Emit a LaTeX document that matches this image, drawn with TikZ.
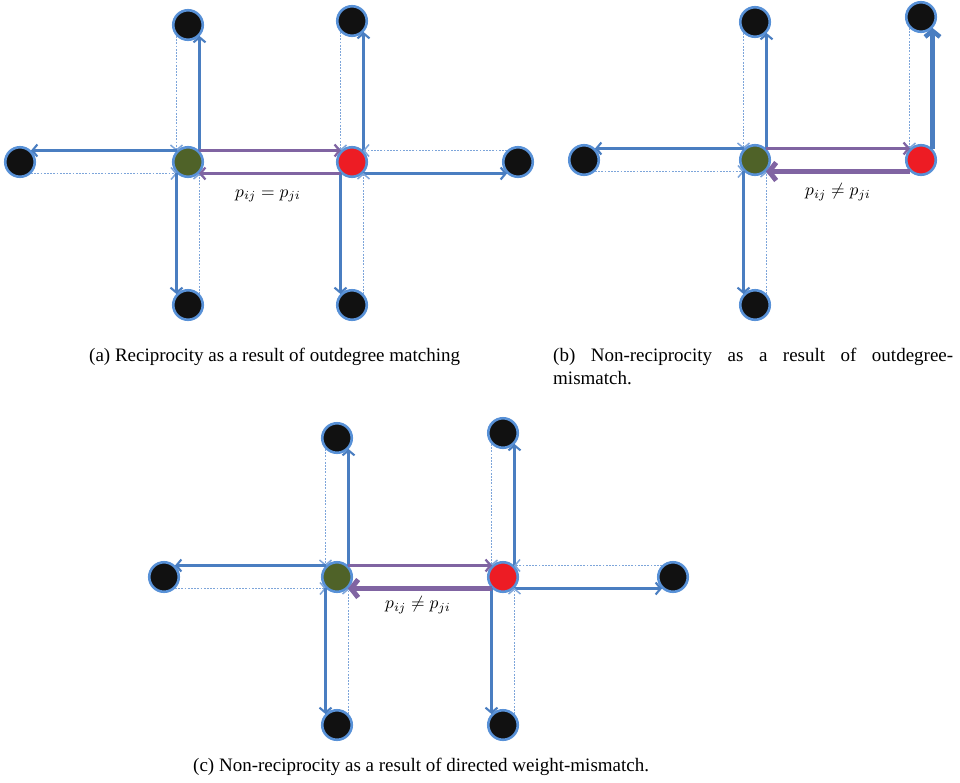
\documentclass[tikz,border=0pt]{standalone}
\usepackage{graphicx}
\usepackage{fontspec}
\newfontfamily\capfont{Liberation Serif}
\usetikzlibrary{arrows.meta,calc}
\definecolor{solblue}{RGB}{74,126,193}
\definecolor{dotblue}{RGB}{125,165,218}
\definecolor{purpc}{RGB}{128,100,162}
\definecolor{ndline}{RGB}{88,145,215}
\definecolor{greenf}{RGB}{79,98,40}
\definecolor{redf}{RGB}{237,28,36}
\definecolor{blackf}{RGB}{17,17,17}
\def\dd{11.5}
\def\ee{11}
\newcommand{\mklinkup}[3][sol]{%
  \draw[#1] ($(#2)+(\dd,-\ee)$) -- ($(#3)+(\dd,\ee)$);
  \draw[dotl] ($(#3)+(-\dd,\ee)$) -- ($(#2)+(-\dd,-\ee)$);}
\newcommand{\mklinkdown}[2]{%
  \draw[sol] ($(#1)+(-\dd,\ee)$) -- ($(#2)+(-\dd,-\ee)$);
  \draw[dotl] ($(#2)+(\dd,-\ee)$) -- ($(#1)+(\dd,\ee)$);}
\newcommand{\mklinkleft}[2]{%
  \draw[sol] ($(#1)+(-\ee,-\dd)$) -- ($(#2)+(\ee,-\dd)$);
  \draw[dotl] ($(#2)+(\ee,\dd)$) -- ($(#1)+(-\ee,\dd)$);}
\newcommand{\mklinkright}[2]{%
  \draw[sol] ($(#1)+(\ee,\dd)$) -- ($(#2)+(-\ee,\dd)$);
  \draw[dotl] ($(#2)+(-\ee,-\dd)$) -- ($(#1)+(\ee,-\dd)$);}
\newcommand{\mklinkmid}[3][purp]{%
  \draw[purp] ($(#2)+(\ee,-\dd)$) -- ($(#3)+(-\ee,-\dd)$);
  \draw[#1] ($(#3)+(-\ee,\dd)$) -- ($(#2)+(\ee,\dd)$);}
\newcommand{\mylab}[1]{\scalebox{1.75}{$#1$}}
\tikzset{
  nd/.style={circle, draw=ndline, line width=2.6pt, minimum size=29.5pt, inner sep=0pt},
  blk/.style={nd, fill=blackf},
  grn/.style={nd, fill=greenf},
  rd/.style={nd, fill=redf},
  sol/.style={draw=solblue, line width=2.1pt, -{Straight Barb[length=5pt,width=12pt]}},
  thsol/.style={draw=solblue, line width=4.5pt, -{Straight Barb[length=6pt,width=15pt]}},
  dotl/.style={draw=dotblue, line width=1.9pt, dash pattern=on 1.8pt off 1.4pt, -{Straight Barb[length=5pt,width=12pt,line width=1.5pt]}},
  purp/.style={draw=purpc, line width=2.2pt, -{Straight Barb[length=5pt,width=12pt]}},
  thpurp/.style={draw=purpc, line width=5pt, -{Straight Barb[length=7pt,width=18pt]}},
  captxt/.style={font=\capfont\fontsize{19}{22}\selectfont, inner sep=0pt},
  lab/.style={inner sep=0pt}
}
\begin{document}
\begin{tikzpicture}[x=1pt,y=-1pt]
\useasboundingbox (0,0) rectangle (960,782);
% ---------- panel (a)
\node[grn] (Ga) at (188,162) {};
\node[rd]  (Ra) at (352,162) {};
\node[blk] (GTa) at (188,25) {};
\node[blk] (RTa) at (352,21) {};
\node[blk] (GLa) at (20,162) {};
\node[blk] (RRa) at (518,162) {};
\node[blk] (GBa) at (188,305) {};
\node[blk] (RBa) at (352,305) {};
\mklinkup{Ga}{GTa}
\mklinkleft{Ga}{GLa}
\mklinkdown{Ga}{GBa}
\mklinkup{Ra}{RTa}
\mklinkright{Ra}{RRa}
\mklinkdown{Ra}{RBa}
\mklinkmid{Ga}{Ra}
\node[lab] (la) at (268,196) {\mylab{p_{ij}=p_{ji}}};
% ---------- panel (b)
\node[grn] (Gb) at (755,160) {};
\node[rd]  (Rb) at (921,160) {};
\node[blk] (GTb) at (755,22) {};
\node[blk] (RTb) at (921,17) {};
\node[blk] (GLb) at (584,160) {};
\node[blk] (GBb) at (755,305) {};
\mklinkup{Gb}{GTb}
\mklinkleft{Gb}{GLb}
\mklinkdown{Gb}{GBb}
\mklinkup[thsol]{Rb}{RTb}
\mklinkmid[thpurp]{Gb}{Rb}
\node[lab] (lb) at (838,192) {\mylab{p_{ij}\neq p_{ji}}};
% ---------- panel (c)
\node[grn] (Gc) at (337,577) {};
\node[rd]  (Rc) at (503,577) {};
\node[blk] (GTc) at (337,438) {};
\node[blk] (RTc) at (503,433) {};
\node[blk] (GLc) at (164,577) {};
\node[blk] (RRc) at (673,577) {};
\node[blk] (GBc) at (337,725) {};
\node[blk] (RBc) at (503,725) {};
\mklinkup{Gc}{GTc}
\mklinkleft{Gc}{GLc}
\mklinkdown{Gc}{GBc}
\mklinkup{Rc}{RTc}
\mklinkright{Rc}{RRc}
\mklinkdown{Rc}{RBc}
\mklinkmid[thpurp]{Gc}{Rc}
\node[lab] (lc) at (418,605) {\mylab{p_{ij}\neq p_{ji}}};
% ---------- captions
\node[captxt, anchor=base west] (capa) at (89,361) {(a) Reciprocity as a result of outdegree matching};
\node[captxt, anchor=base west] (capb) at (553,361) {\makebox[400pt][s]{(b) Non-reciprocity as a result of outdegree-}};
\node[captxt, anchor=base west] (capb2) at (553,384) {mismatch.};
\node[captxt, anchor=base west] (capc) at (193,771) {(c) Non-reciprocity as a result of directed weight-mismatch.};
\end{tikzpicture}
\end{document}
